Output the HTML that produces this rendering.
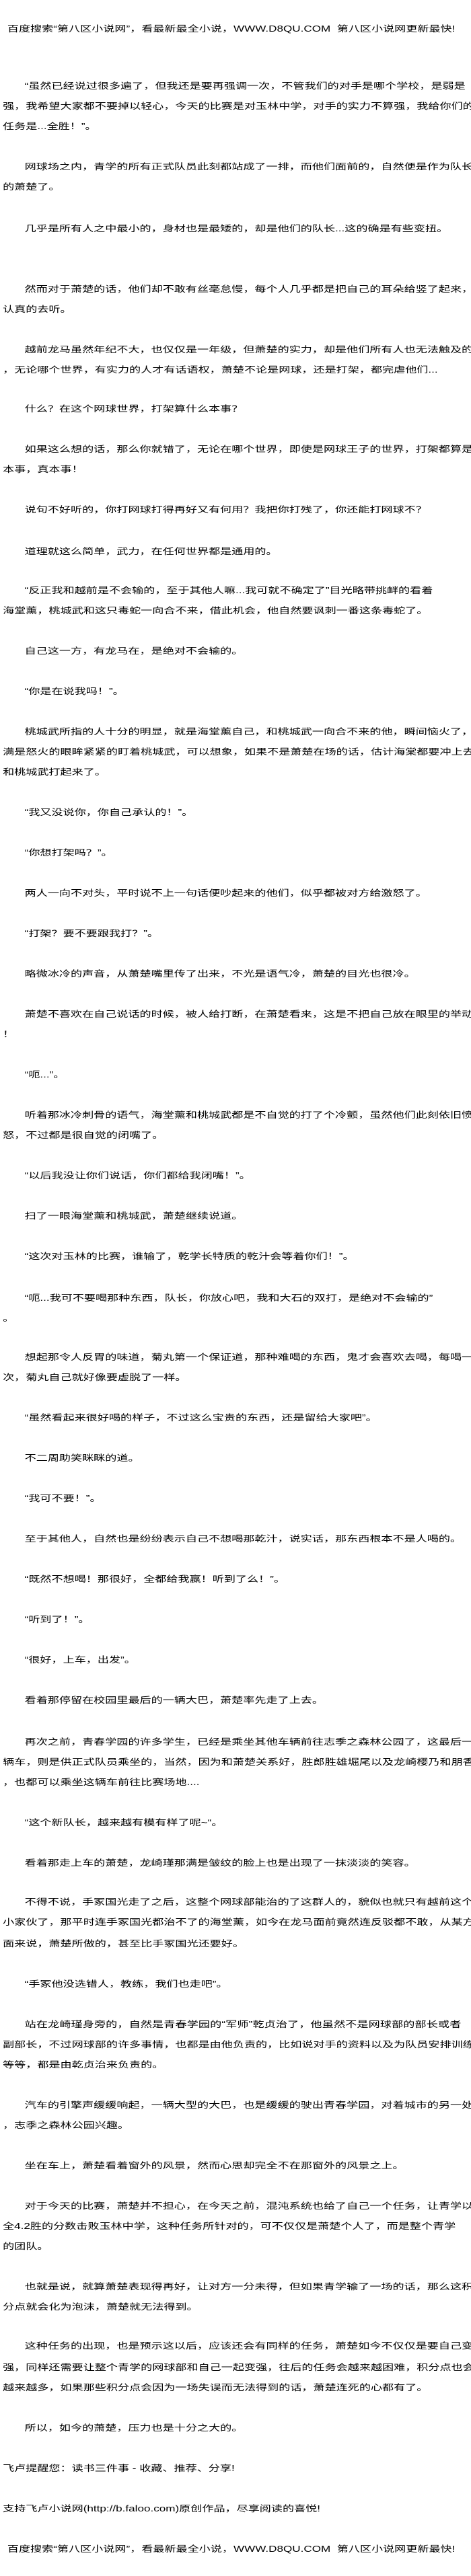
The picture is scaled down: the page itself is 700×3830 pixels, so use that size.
<!DOCTYPE html>
<html><head><meta charset="utf-8">
<style>
html,body{margin:0;padding:0;background:#fff;}
body{width:700px;height:3830px;position:relative;overflow:hidden;
font-family:"Liberation Sans","WenQuanYi Zen Hei","Noto Sans CJK SC",sans-serif;font-size:12.6px;color:#000;}
#w{position:absolute;left:0;top:0;width:516px;height:3830px;transform:scaleX(1.357);transform-origin:0 0;}
.l{position:absolute;left:3px;white-space:nowrap;line-height:16px;height:16px;}
.i{left:27px;}
.f{width:502px;text-align:justify;text-align-last:justify;}
.i.f{width:478px;}
</style></head><body><div id="w">
<div class="l" style="left:8px;top:35px">百度搜索“第八区小说网”，看最新最全小说，WWW.D8QU.COM&nbsp;&nbsp;第八区小说网更新最快!</div>
<div class="l i f" style="top:120px">“虽然已经说过很多遍了，但我还是要再强调一次，不管我们的对手是哪个学校，是弱是</div>
<div class="l f" style="top:150px">强，我希望大家都不要掉以轻心，今天的比赛是对玉林中学，对手的实力不算强，我给你们的</div>
<div class="l" style="top:180px">任务是...全胜！”。</div>
<div class="l i f" style="top:240px">网球场之内，青学的所有正式队员此刻都站成了一排，而他们面前的，自然便是作为队长</div>
<div class="l" style="top:270px">的萧楚了。</div>
<div class="l i" style="top:332px">几乎是所有人之中最小的，身材也是最矮的，却是他们的队长...这的确是有些变扭。</div>
<div class="l i f" style="top:422px">然而对于萧楚的话，他们却不敢有丝毫怠慢，每个人几乎都是把自己的耳朵给竖了起来，</div>
<div class="l" style="top:452px">认真的去听。</div>
<div class="l i f" style="top:512px">越前龙马虽然年纪不大，也仅仅是一年级，但萧楚的实力，却是他们所有人也无法触及的</div>
<div class="l" style="top:542px">，无论哪个世界，有实力的人才有话语权，萧楚不论是网球，还是打架，都完虐他们...</div>
<div class="l i" style="top:600px">什么？在这个网球世界，打架算什么本事？</div>
<div class="l i f" style="top:660px">如果这么想的话，那么你就错了，无论在哪个世界，即使是网球王子的世界，打架都算是</div>
<div class="l" style="top:690px">本事，真本事！</div>
<div class="l i" style="top:750px">说句不好听的，你打网球打得再好又有何用？我把你打残了，你还能打网球不？</div>
<div class="l i" style="top:812px">道理就这么简单，武力，在任何世界都是通用的。</div>
<div class="l i" style="top:870px">“反正我和越前是不会输的，至于其他人嘛...我可就不确定了”目光略带挑衅的看着</div>
<div class="l" style="top:900px">海堂薰，桃城武和这只毒蛇一向合不来，借此机会，他自然要讽刺一番这条毒蛇了。</div>
<div class="l i" style="top:960px">自己这一方，有龙马在，是绝对不会输的。</div>
<div class="l i" style="top:1020px">“你是在说我吗！”。</div>
<div class="l i f" style="top:1080px">桃城武所指的人十分的明显，就是海堂薰自己，和桃城武一向合不来的他，瞬间恼火了，</div>
<div class="l f" style="top:1110px">满是怒火的眼眸紧紧的盯着桃城武，可以想象，如果不是萧楚在场的话，估计海棠都要冲上去</div>
<div class="l" style="top:1140px">和桃城武打起来了。</div>
<div class="l i" style="top:1200px">“我又没说你，你自己承认的！”。</div>
<div class="l i" style="top:1260px">“你想打架吗？”。</div>
<div class="l i" style="top:1320px">两人一向不对头，平时说不上一句话便吵起来的他们，似乎都被对方给激怒了。</div>
<div class="l i" style="top:1380px">“打架？要不要跟我打？”。</div>
<div class="l i" style="top:1440px">略微冰冷的声音，从萧楚嘴里传了出来，不光是语气冷，萧楚的目光也很冷。</div>
<div class="l i f" style="top:1500px">萧楚不喜欢在自己说话的时候，被人给打断，在萧楚看来，这是不把自己放在眼里的举动</div>
<div class="l" style="top:1530px">！</div>
<div class="l i" style="top:1590px">“呃...”。</div>
<div class="l i f" style="top:1650px">听着那冰冷刺骨的语气，海堂薰和桃城武都是不自觉的打了个冷颤，虽然他们此刻依旧愤</div>
<div class="l" style="top:1680px">怒，不过都是很自觉的闭嘴了。</div>
<div class="l i" style="top:1740px">“以后我没让你们说话，你们都给我闭嘴！”。</div>
<div class="l i" style="top:1800px">扫了一眼海堂薰和桃城武，萧楚继续说道。</div>
<div class="l i" style="top:1860px">“这次对玉林的比赛，谁输了，乾学长特质的乾汁会等着你们！”。</div>
<div class="l i" style="top:1922px">“呃...我可不要喝那种东西，队长，你放心吧，我和大石的双打，是绝对不会输的”</div>
<div class="l" style="top:1952px">。</div>
<div class="l i f" style="top:2010px">想起那令人反胃的味道，菊丸第一个保证道，那种难喝的东西，鬼才会喜欢去喝，每喝一</div>
<div class="l" style="top:2040px">次，菊丸自己就好像要虚脱了一样。</div>
<div class="l i" style="top:2100px">“虽然看起来很好喝的样子，不过这么宝贵的东西，还是留给大家吧”。</div>
<div class="l i" style="top:2160px">不二周助笑眯眯的道。</div>
<div class="l i" style="top:2220px">“我可不要！”。</div>
<div class="l i" style="top:2280px">至于其他人，自然也是纷纷表示自己不想喝那乾汁，说实话，那东西根本不是人喝的。</div>
<div class="l i" style="top:2340px">“既然不想喝！那很好，全都给我赢！听到了么！”。</div>
<div class="l i" style="top:2400px">“听到了！”。</div>
<div class="l i" style="top:2460px">“很好，上车，出发”。</div>
<div class="l i" style="top:2520px">看着那停留在校园里最后的一辆大巴，萧楚率先走了上去。</div>
<div class="l i f" style="top:2582px">再次之前，青春学园的许多学生，已经是乘坐其他车辆前往志季之森林公园了，这最后一</div>
<div class="l f" style="top:2612px">辆车，则是供正式队员乘坐的，当然，因为和萧楚关系好，胜郎胜雄堀尾以及龙崎樱乃和朋香</div>
<div class="l" style="top:2642px">，也都可以乘坐这辆车前往比赛场地....</div>
<div class="l i" style="top:2702px">“这个新队长，越来越有模有样了呢~“。</div>
<div class="l i" style="top:2762px">看着那走上车的萧楚，龙崎瑾那满是皱纹的脸上也是出现了一抹淡淡的笑容。</div>
<div class="l i f" style="top:2820px">不得不说，手冢国光走了之后，这整个网球部能治的了这群人的，貌似也就只有越前这个</div>
<div class="l f" style="top:2850px">小家伙了，那平时连手冢国光都治不了的海堂薰，如今在龙马面前竟然连反驳都不敢，从某方</div>
<div class="l" style="top:2882px">面来说，萧楚所做的，甚至比手冢国光还要好。</div>
<div class="l i" style="top:2942px">“手冢他没选错人，教练，我们也走吧”。</div>
<div class="l i f" style="top:3002px">站在龙崎瑾身旁的，自然是青春学园的“军师”乾贞治了，他虽然不是网球部的部长或者</div>
<div class="l f" style="top:3032px">副部长，不过网球部的许多事情，也都是由他负责的，比如说对手的资料以及为队员安排训练</div>
<div class="l" style="top:3062px">等等，都是由乾贞治来负责的。</div>
<div class="l i f" style="top:3122px">汽车的引擎声缓缓响起，一辆大型的大巴，也是缓缓的驶出青春学园，对着城市的另一处</div>
<div class="l" style="top:3152px">，志季之森林公园兴趣。</div>
<div class="l i" style="top:3212px">坐在车上，萧楚看着窗外的风景，然而心思却完全不在那窗外的风景之上。</div>
<div class="l i f" style="top:3272px">对于今天的比赛，萧楚并不担心，在今天之前，混沌系统也给了自己一个任务，让青学以</div>
<div class="l" style="top:3302px">全4.2胜的分数击败玉林中学，这种任务所针对的，可不仅仅是萧楚个人了，而是整个青学</div>
<div class="l" style="top:3332px">的团队。</div>
<div class="l i f" style="top:3392px">也就是说，就算萧楚表现得再好，让对方一分未得，但如果青学输了一场的话，那么这积</div>
<div class="l" style="top:3422px">分点就会化为泡沫，萧楚就无法得到。</div>
<div class="l i f" style="top:3480px">这种任务的出现，也是预示这以后，应该还会有同样的任务，萧楚如今不仅仅是要自己变</div>
<div class="l f" style="top:3512px">强，同样还需要让整个青学的网球部和自己一起变强，往后的任务会越来越困难，积分点也会</div>
<div class="l" style="top:3542px">越来越多，如果那些积分点会因为一场失误而无法得到的话，萧楚连死的心都有了。</div>
<div class="l i" style="top:3602px">所以，如今的萧楚，压力也是十分之大的。</div>
<div class="l" style="top:3662px">飞卢提醒您：读书三件事 - 收藏、推荐、分享!</div>
<div class="l" style="top:3722px">支持飞卢小说网(http://b.faloo.com)原创作品，尽享阅读的喜悦!</div>
<div class="l" style="left:8px;top:3782px">百度搜索“第八区小说网”，看最新最全小说，WWW.D8QU.COM&nbsp;&nbsp;第八区小说网更新最快!</div>
</div></body></html>
